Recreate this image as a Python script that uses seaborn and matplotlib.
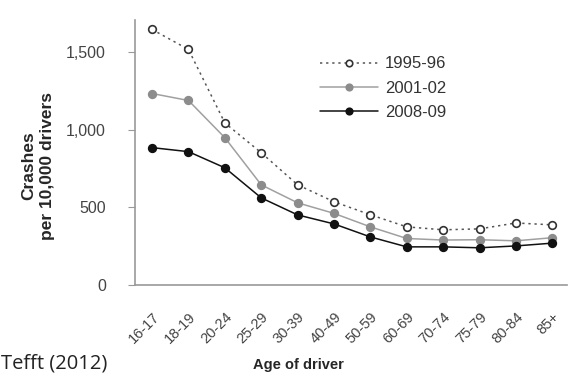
import pandas as pd
import matplotlib
matplotlib.use("Agg")
import matplotlib.pyplot as plt
import seaborn as sns

# age groups and crash rates per 10,000 drivers
ages = ['16-17', '18-19', '20-24', '25-29', '30-39', '40-49',
        '50-59', '60-69', '70-74', '75-79', '80-84', '85+']
rate_1995 = [1648, 1519, 1045, 853, 646, 537, 453, 375, 356, 362, 400, 388]
rate_2001 = [1235, 1190, 950, 646, 530, 462, 375, 300, 290, 292, 285, 305]
rate_2008 = [886, 860, 756, 562, 452, 394, 310, 246, 246, 240, 252, 270]
periods = ['1995-96', '2001-02', '2008-09']

df = pd.DataFrame({
    'age': ages * 3,
    'rate': rate_1995 + rate_2001 + rate_2008,
    'period': [p for p in periods for _ in ages],
})

sns.set_theme(style="white")
plt.rcParams['font.family'] = ['Liberation Sans', 'DejaVu Sans']

fig = plt.figure(figsize=(5.77, 3.75), dpi=100)
ax = fig.add_axes([0.234, 0.24, 0.749, 0.707])

styles = {
    '1995-96': dict(color='#555555', linestyle=(0, (1.5, 2.5)), marker='o',
                    markerfacecolor='white', markeredgecolor='#333333'),
    '2001-02': dict(color='#a0a0a0', linestyle='-', marker='o',
                    markerfacecolor='#8c8c8c', markeredgecolor='#8c8c8c'),
    '2008-09': dict(color='#111111', linestyle='-', marker='o',
                    markerfacecolor='#111111', markeredgecolor='#111111'),
}

for p in periods:
    sub = df[df['period'] == p]
    sns.lineplot(data=sub, x='age', y='rate', ax=ax, sort=False, label=p,
                 linewidth=1.1, markersize=5.5, markeredgewidth=1.2, **styles[p])

ax.set_xlim(-0.47, 11.41)
ax.set_ylim(0, 1710)
ax.set_yticks([0, 500, 1000, 1500])
ax.set_yticklabels(['0', '500', '1,000', '1,500'], fontsize=11.5, color='#444444')
ax.tick_params(axis='y', left=True, length=5, width=0.8, color='#999999', pad=16)
ax.tick_params(axis='x', bottom=False, pad=12)
plt.setp(ax.get_xticklabels(), rotation=45, ha='right', rotation_mode='anchor',
         fontsize=10.5, color='#444444')

for s in ['top', 'right']:
    ax.spines[s].set_visible(False)
for s in ['left', 'bottom']:
    ax.spines[s].set_color('#999999')
    ax.spines[s].set_linewidth(1.2)

ax.set_xlabel('Age of driver', fontsize=10.5, fontweight='bold')
ax.xaxis.set_label_coords(0.377, -0.275)
ax.set_ylabel('Crashes\nper 10,000 drivers', fontsize=12.5, fontweight='bold',
              linespacing=1.35)
ax.yaxis.set_label_coords(-0.185, 0.45)

leg = ax.legend(loc='upper left', bbox_to_anchor=(0.428, 0.862), frameon=False,
                fontsize=12, handlelength=3.5, labelspacing=0.55, handletextpad=0.4,
                borderpad=0, borderaxespad=0, markerscale=0.85)
for t in leg.get_texts():
    t.set_color('#333333')

fig.text(0.001, 0.003, 'Tefft (2012)', fontsize=14.5, family='Open Sans',
         color='#222222', ha='left', va='bottom')

fig.savefig('out.png', dpi=100, facecolor='white')
